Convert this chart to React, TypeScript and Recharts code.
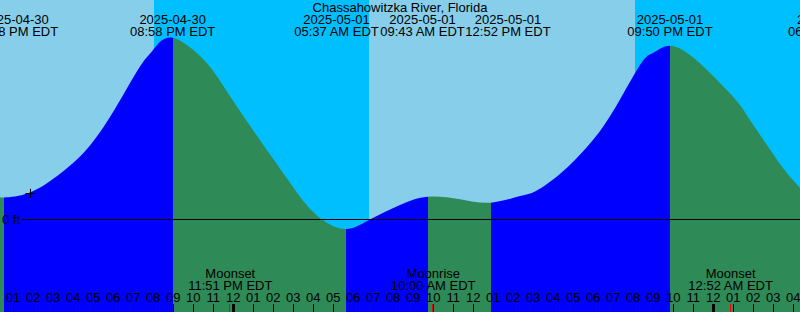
import React from 'react';
import {
  ComposedChart,
  Area,
  XAxis,
  YAxis,
  ReferenceArea,
  ReferenceLine,
  ReferenceDot,
} from 'recharts';

// All times: hours counted from 2025-04-30 00:00 EDT
const sampleHours = [
  12.335, 12.55, 13.835, 15.385, 16.935, 18.435, 19.385, 19.985, 20.967, 22.535,
  23.535, 25.085, 26.635, 27.335, 28.335, 29.617, 30.785, 32.335, 33.717, 35.335,
  36.867, 38.335, 39.135, 40.385, 41.685, 42.935, 44.335, 44.985, 45.833, 46.835,
  47.685, 49.085, 49.835, 50.685, 51.485, 52.335,
];
const sampleHeightsFt = [
  0.454, 0.442, 0.54, 0.93, 1.53, 2.45, 3.09, 3.39, 3.636, 3.19,
  2.65, 1.73, 0.85, 0.456, 0.03, -0.19, -0.01, 0.29, 0.456, 0.404,
  0.336, 0.47, 0.57, 0.93, 1.45, 2.13, 3.09, 3.33, 3.476, 3.29,
  2.99, 2.41, 1.99, 1.49, 1.03, 0.63,
];

const tideExtremeHours = [12.55, 20.967, 29.617, 33.717, 36.867, 45.833];
const tideExtremeKinds = ['low', 'high', 'low', 'high', 'low', 'high'];

const tideLabelHours = [13.11, 20.967, 29.16, 33.46, 37.735, 45.833, 53.85];
const tideLabelDates = ['2025-04-30', '2025-04-30', '2025-05-01', '2025-05-01', '2025-05-01', '2025-05-01', '2025-05-02'];
const tideLabelTimes = ['12:38 PM EDT', '08:58 PM EDT', '05:37 AM EDT', '09:43 AM EDT', '12:52 PM EDT', '09:50 PM EDT', '06:04 AM EDT'];

const moonEventHours = [23.85, 34.0, 48.867];
const moonEventNames = ['Moonset', 'Moonrise', 'Moonset'];
const moonEventTimes = ['11:51 PM EDT', '10:00 AM EDT', '12:52 AM EDT'];

const sunEventHours = [20.035, 30.785, 44.085];
const sunEventKinds = ['set', 'rise', 'set'];

const hourTicks = Array.from({ length: 40 }, (_, i) => 13 + i);

const timeDomain: [number, number] = [12.335, 52.335];
const heightDomain: [number, number] = [-1.85, 4.39];

const markHour = 13.835;
const markFt = 0.524;
const zeroLineStartHour = 13.435;

const TITLE = 'Chassahowitzka River, Florida';

const RISE = '#0000ff';
const FALL = '#2e8b57';
const DAY = '#87ceeb';
const NIGHT = '#00bfff';
const FONT = '"Liberation Sans", Arial, sans-serif';
const FS = 13;

const data = sampleHours.map((t, i) => ({ t, v: sampleHeightsFt[i] }));

// gradient stops for rising / falling fill
const stops: { offset: number; color: string }[] = [];
{
  const [t0, t1] = timeDomain;
  let prev = 0;
  tideExtremeHours.forEach((h, i) => {
    const off = (h - t0) / (t1 - t0);
    const before = tideExtremeKinds[i] === 'low' ? FALL : RISE;
    const after = tideExtremeKinds[i] === 'low' ? RISE : FALL;
    stops.push({ offset: prev, color: before }, { offset: off, color: before }, { offset: off, color: after });
    prev = off;
  });
  const lastAfter = tideExtremeKinds[tideExtremeKinds.length - 1] === 'low' ? RISE : FALL;
  stops.push({ offset: 1, color: lastAfter });
}

// day / night bands
const bands: { from: number; to: number; color: string }[] = [];
{
  let start = timeDomain[0];
  sunEventHours.forEach((h, i) => {
    const isDayBefore = sunEventKinds[i] === 'set';
    bands.push({ from: start, to: h, color: isDayBefore ? DAY : NIGHT });
    start = h;
  });
  const lastDay = sunEventKinds[sunEventKinds.length - 1] === 'rise';
  bands.push({ from: start, to: timeDomain[1], color: lastDay ? DAY : NIGHT });
}

const hourLabel = (h: number) => {
  const m = h % 12;
  const v = m === 0 ? 12 : m;
  return v < 10 ? '0' + v : String(v);
};

const HourTick = (props: any) => {
  const { x, payload } = props;
  const h = payload.value as number;
  const midnight = h % 24 === 0;
  const lx = Math.round(x) + 0.5;
  return (
    <g>
      <line x1={lx} x2={lx} y1={304} y2={312} stroke="#000" strokeWidth={midnight ? 3 : 1} />
      <text x={x} y={302} textAnchor="middle" fontSize={FS} fontFamily={FONT} fill="#000">
        {hourLabel(h)}
      </text>
    </g>
  );
};

const MoonTick = (props: any) => {
  const { x, payload } = props;
  const i = moonEventHours.indexOf(payload.value);
  const lx = Math.round(x) - 0.5;
  return (
    <g>
      <line x1={lx} x2={lx} y1={304} y2={312} stroke="#ff0000" strokeWidth={1} />
      <text x={x} y={278} textAnchor="middle" fontSize={FS} fontFamily={FONT} fill="#000">
        {moonEventNames[i]}
      </text>
      <text x={x} y={290} textAnchor="middle" fontSize={FS} fontFamily={FONT} fill="#000">
        {moonEventTimes[i]}
      </text>
    </g>
  );
};

const TideTick = (props: any) => {
  const { x, payload } = props;
  const i = tideLabelHours.indexOf(payload.value);
  return (
    <g>
      <text x={x} y={24} textAnchor="middle" fontSize={FS} fontFamily={FONT} fill="#000">
        {tideLabelDates[i]}
      </text>
      <text x={x} y={36} textAnchor="middle" fontSize={FS} fontFamily={FONT} fill="#000">
        {tideLabelTimes[i]}
      </text>
    </g>
  );
};

const TitleLabel = (props: any) => {
  const vb = props.viewBox || {};
  const cx = (vb.x ?? 0) + (vb.width ?? 800) / 2;
  return (
    <text x={cx} y={12} textAnchor="middle" fontSize={FS} fontFamily={FONT} fill="#000">
      {TITLE}
    </text>
  );
};

const ZeroLabel = (props: any) => {
  const vb = props.viewBox || {};
  return (
    <text
      x={(vb.x ?? 0) - 2}
      y={(vb.y ?? 0) + 4.5}
      textAnchor="end"
      fontSize={FS}
      fontFamily={FONT}
      fill="#000"
    >
      0 ft
    </text>
  );
};

const PlusMark = (p: any) => (
  <g>
    <line x1={p.cx - 4.5} x2={p.cx + 4.5} y1={Math.round(p.cy) + 0.5} y2={Math.round(p.cy) + 0.5} stroke="#000" />
    <line x1={Math.round(p.cx) + 0.5} x2={Math.round(p.cx) + 0.5} y1={p.cy - 4.5} y2={p.cy + 4.5} stroke="#000" />
  </g>
);

export default function App() {
  return (
    <div style={{ position: 'absolute', left: 0, top: 0, width: 800, height: 312, fontFamily: FONT }}>
      <ComposedChart width={800} height={312} data={data} margin={{ top: -1, right: 0, bottom: -2, left: 0 }}>
        <defs>
          <linearGradient id="tideFill" x1="0" y1="0" x2="1" y2="0">
            {stops.map((s, i) => (
              <stop key={i} offset={s.offset} stopColor={s.color} />
            ))}
          </linearGradient>
        </defs>
        <YAxis type="number" domain={heightDomain} allowDataOverflow hide />
        {bands.map((b, i) => (
          <ReferenceArea key={i} x1={b.from} x2={b.to} fill={b.color} fillOpacity={1} stroke="none" ifOverflow="hidden" />
        ))}
        <Area
          type="natural"
          dataKey="v"
          stroke="none"
          fill="url(#tideFill)"
          fillOpacity={1}
          baseValue="dataMin"
          isAnimationActive={false}
          dot={false}
          activeDot={false}
        />
        <ReferenceLine
          segment={[
            { x: zeroLineStartHour, y: 0 },
            { x: timeDomain[1], y: 0 },
          ]}
          stroke="#000"
          strokeWidth={1}
          label={<ZeroLabel />}
        />
        <ReferenceDot x={markHour} y={markFt} shape={PlusMark} ifOverflow="visible" />
        <XAxis
          dataKey="t"
          type="number"
          domain={timeDomain}
          allowDataOverflow
          ticks={hourTicks}
          interval={0}
          height={1}
          tickSize={0}
          tickMargin={0}
          axisLine={false}
          tickLine={false}
          tick={HourTick}
        />
        <XAxis
          xAxisId="moon"
          dataKey="t"
          type="number"
          domain={timeDomain}
          allowDataOverflow
          ticks={moonEventHours}
          interval={0}
          height={1}
          tickSize={0}
          tickMargin={0}
          axisLine={false}
          tickLine={false}
          tick={MoonTick}
        />
        <XAxis
          xAxisId="tide"
          dataKey="t"
          orientation="top"
          type="number"
          domain={timeDomain}
          allowDataOverflow
          ticks={tideLabelHours}
          interval={0}
          height={1}
          tickSize={0}
          tickMargin={0}
          axisLine={false}
          tickLine={false}
          tick={TideTick}
          label={<TitleLabel />}
        />
      </ComposedChart>
    </div>
  );
}
